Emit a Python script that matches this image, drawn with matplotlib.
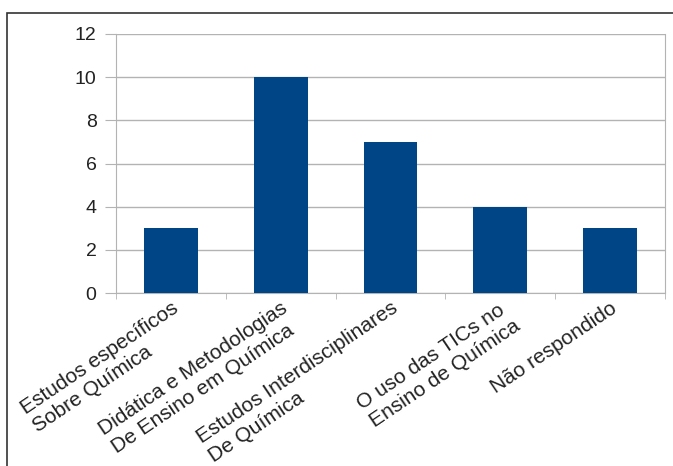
import matplotlib.pyplot as plt
import matplotlib.patches as mpatches
import matplotlib.transforms as mtransforms
import numpy as np

categories = ['Estudos específicos\nSobre Química',
              'Didática e Metodologias\nDe Ensino em Química',
              'Estudos Interdisciplinares\nDe Química',
              'O uso das TICs no\nEnsino de Química',
              'Não respondido']
values = [3, 10, 7, 4, 3]
yticks = [0, 2, 4, 6, 8, 10, 12]

plt.rcParams['font.family'] = ['Liberation Sans', 'DejaVu Sans']

fig = plt.figure(figsize=(6.73, 4.66), dpi=100)
ax = fig.add_axes([116/673, 1-293/466, 549/673, 259/466])

x = np.arange(len(categories))
ax.bar(x, values, width=0.49, color='#004586', zorder=3)

ax.set_xlim(-0.5, len(categories)-0.5)
ax.set_ylim(0, 12)
ax.set_yticks(yticks)
ax.set_yticklabels([str(v) for v in yticks], fontsize=14, color='#222222')
ax.yaxis.grid(True, color='#b3b3b3', lw=1, zorder=0)
ax.tick_params(axis='y', length=8, color='#b3b3b3', pad=6)

ax.set_xticks(x)
labels = ax.set_xticklabels(categories, rotation=34, ha='right', va='top',
                            rotation_mode='anchor', multialignment='left',
                            fontsize=15, color='#222222', linespacing=1.2)
shift = mtransforms.ScaledTranslation(10/100, 0, fig.dpi_scale_trans)
for lab in labels:
    lab.set_transform(lab.get_transform() + shift)
ax.tick_params(axis='x', length=0, pad=4)
ax.set_xticks(np.arange(-0.5, len(categories)), minor=True)
ax.tick_params(axis='x', which='minor', length=4, color='#b3b3b3')

for s in ['left', 'right', 'bottom']:
    ax.spines[s].set_color('#b3b3b3')
ax.spines['top'].set_visible(False)

fig.patches.append(mpatches.Rectangle((7/673, -0.05), 1.0, 1-13/466+0.05,
                                      transform=fig.transFigure, fill=False,
                                      edgecolor='#333333', lw=1.2))

fig.savefig('out.png', dpi=100)
